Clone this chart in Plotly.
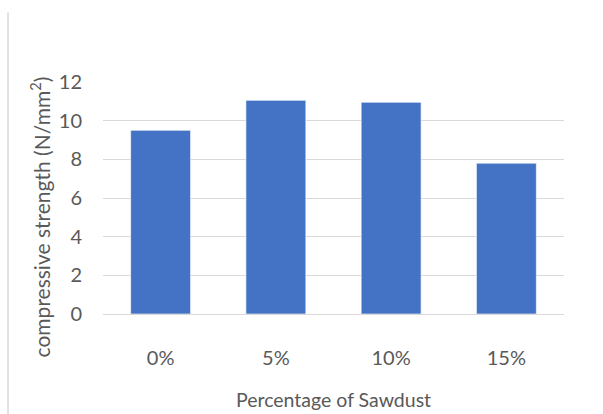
import plotly.graph_objects as go

categories = ["0%", "5%", "10%", "15%"]
strength = [9.5, 11.05, 10.95, 7.8]
y_ticks = [0, 2, 4, 6, 8, 10, 12]

FONT = "Lato"
GRAY = "#595959"

fig = go.Figure()
fig.add_trace(go.Bar(
    x=categories, y=strength,
    marker=dict(color="#4472C4", line=dict(color="rgba(255,255,255,0.6)", width=1)),
    hoverinfo="skip",
))

fig.update_layout(
    width=603, height=414,
    margin=dict(l=103, r=39, t=82, b=100),
    paper_bgcolor="white", plot_bgcolor="white",
    bargap=0.48,
    showlegend=False,
    font=dict(family=FONT, color=GRAY),
    xaxis=dict(
        showgrid=False, showline=False, zeroline=False,
        tickfont=dict(family=FONT, size=20, color=GRAY),
        ticks="", ticklabelstandoff=30,
    ),
    yaxis=dict(
        range=[0, 12], tickvals=y_ticks,
        showgrid=True, gridcolor="#d9d9d9", gridwidth=1,
        zeroline=True, zerolinecolor="#d9d9d9", zerolinewidth=1,
        showline=False,
        tickfont=dict(family=FONT, size=20, color=GRAY),
        ticks="", ticklabelstandoff=20,
    ),
    annotations=[
        dict(text="compressive strength (N/mm<sup>2</sup>)", xref="paper", yref="paper",
             x=-0.137, y=0.42, xanchor="center", yanchor="middle", textangle=-90,
             showarrow=False, font=dict(family=FONT, size=21, color=GRAY)),
        dict(text="Percentage of Sawdust", xref="paper", yref="paper",
             x=0.5, y=-0.367, xanchor="center", yanchor="middle",
             showarrow=False, font=dict(family=FONT, size=19.5, color=GRAY)),
    ],
    shapes=[
        dict(type="line", xref="paper", yref="paper",
             x0=-0.206, x1=-0.206, y0=-0.44, y1=1.30,
             line=dict(color="#d9d9d9", width=1.5)),
    ],
)

fig.write_html("out.html")
